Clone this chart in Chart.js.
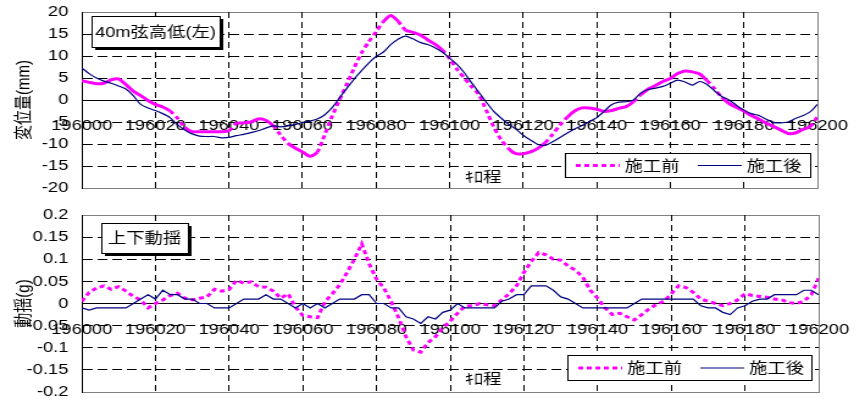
<!DOCTYPE html>
<html>
<head>
<meta charset="utf-8">
<script src="https://cdn.jsdelivr.net/npm/chart.js@4/dist/chart.umd.min.js"></script>
<style>
    body { margin: 0; background: #fff; }
    .wrap { position: absolute; left: 0; transform: scaleX(1.22); transform-origin: 0 0; }
</style>
</head>
<body>
<div class="wrap" style="top:0"><canvas id="alignment-chart" width="704" height="200"></canvas></div>
<div class="wrap" style="top:200px"><canvas id="sway-chart" width="704" height="201"></canvas></div>
<script>
const kiloPosts = [
    196000, 196002, 196004, 196006, 196008, 196010, 196012, 196014, 196016, 196018,
    196020, 196022, 196024, 196026, 196028, 196030, 196032, 196034, 196036, 196038,
    196040, 196042, 196044, 196046, 196048, 196050, 196052, 196054, 196056, 196058,
    196060, 196062, 196064, 196066, 196068, 196070, 196072, 196074, 196076, 196078,
    196080, 196082, 196084, 196086, 196088, 196090, 196092, 196094, 196096, 196098,
    196100, 196102, 196104, 196106, 196108, 196110, 196112, 196114, 196116, 196118,
    196120, 196122, 196124, 196126, 196128, 196130, 196132, 196134, 196136, 196138,
    196140, 196142, 196144, 196146, 196148, 196150, 196152, 196154, 196156, 196158,
    196160, 196162, 196164, 196166, 196168, 196170, 196172, 196174, 196176, 196178,
    196180, 196182, 196184, 196186, 196188, 196190, 196192, 196194, 196196, 196198,
    196200
];

// 40m弦高低 (mm)
const alignmentBefore = [
    4.4, 4.0, 3.7, 3.8, 4.6, 4.8, 3.5, 2.0, 1.0, -0.1,
    -1.0, -1.6, -2.5, -4.1, -6.2, -7.2, -7.2, -7.2, -7.2, -7.2,
    -7.0, -5.3, -5.2, -5.0, -4.3, -4.6, -5.8, -7.9, -9.8, -10.9,
    -11.8, -12.8, -11.9, -8.0, -3.8, -0.1, 3.5, 7.2, 10.6, 13.2,
    15.5, 17.8, 19.2, 17.9, 15.9, 15.4, 14.8, 13.7, 12.7, 11.4,
    9.4, 7.0, 5.0, 3.0, 1.2, -2.4, -6.1, -9.0, -11.0, -12.2,
    -12.2, -11.8, -11.0, -9.7, -7.8, -5.7, -3.9, -2.5, -1.8, -1.8,
    -2.1, -2.6, -2.4, -1.9, -1.5, -0.4, 1.2, 2.5, 3.3, 4.2,
    4.9, 6.0, 6.6, 6.4, 5.9, 4.4, 2.6, 0.6, -0.8, -1.7,
    -2.5, -3.5, -4.3, -5.2, -6.0, -6.8, -7.6, -7.5, -6.7, -6.1,
    -3.8
];
const alignmentAfter = [
    7.3, 6.0, 5.0, 4.3, 3.8, 3.2, 2.5, 1.0, -1.0, -1.8,
    -2.4, -3.1, -4.0, -5.6, -6.8, -7.7, -8.2, -8.3, -8.3, -8.6,
    -8.5, -8.1, -7.8, -7.4, -7.0, -6.4, -5.9, -6.1, -5.9, -5.6,
    -5.1, -4.8, -4.3, -3.4, -1.8, 0.4, 2.6, 4.7, 6.6, 8.4,
    9.9, 10.9, 12.6, 13.8, 14.5, 13.9, 13.1, 12.6, 11.9, 10.9,
    9.5, 8.1, 6.2, 3.9, 1.7, -0.5, -2.6, -4.1, -5.5, -6.6,
    -8.0, -9.1, -10.1, -10.3, -9.5, -8.5, -7.5, -6.6, -5.8, -4.9,
    -4.0, -2.6, -1.1, -0.5, -0.4, 0.0, 1.6, 2.4, 2.7, 3.1,
    3.8, 4.5, 4.1, 3.4, 4.2, 3.5, 2.1, 0.8, 0.0, -1.2,
    -2.3, -3.1, -3.5, -4.3, -5.1, -5.2, -5.0, -4.2, -3.6, -2.7,
    -1.0
];

// 上下動揺 (g)
const swayBefore = [
    0.005, 0.025, 0.035, 0.04, 0.032, 0.038, 0.028, 0.016, 0.008, -0.01,
    0.0, 0.008, 0.018, 0.023, 0.012, 0.008, 0.012, 0.015, 0.032, 0.028,
    0.032, 0.052, 0.046, 0.049, 0.038, 0.037, 0.028, 0.012, 0.022, -0.008,
    -0.027, -0.03, -0.032, 0.004, 0.022, 0.042, 0.07, 0.1, 0.135, 0.09,
    0.055, 0.035, 0.004, -0.032, -0.075, -0.105, -0.11, -0.088, -0.075, -0.055,
    -0.04, -0.022, -0.006, -0.005, 0.0, -0.003, -0.005, 0.008, 0.022, 0.04,
    0.07, 0.095, 0.115, 0.11, 0.1, 0.098, 0.085, 0.075, 0.06, 0.03,
    0.012, -0.01, -0.025, -0.022, -0.03, -0.037, -0.025, -0.012, -0.002, 0.005,
    0.022, 0.04, 0.036, 0.025, 0.01, 0.005, 0.0, -0.005, 0.0, 0.008,
    0.022, 0.018, 0.016, 0.014, 0.01, 0.008, 0.002, 0.0, 0.005, 0.02,
    0.057
];
const swayAfter = [
    -0.01, -0.015, -0.01, -0.01, -0.01, -0.01, -0.01, 0.0, 0.01, 0.02,
    0.01, 0.03, 0.02, 0.02, 0.01, 0.01, 0.0, 0.0, -0.01, -0.01,
    -0.01, 0.0, 0.01, 0.01, 0.01, 0.02, 0.01, 0.01, 0.0, -0.01,
    0.0, -0.01, 0.0, -0.01, 0.0, 0.01, 0.01, 0.01, 0.02, 0.02,
    0.0, 0.0, -0.01, -0.01, -0.03, -0.035, -0.045, -0.03, -0.035, -0.02,
    -0.015, 0.0, -0.01, -0.01, -0.01, -0.01, -0.01, 0.005, 0.01, 0.02,
    0.02, 0.04, 0.04, 0.04, 0.03, 0.015, 0.01, 0.0, -0.01, -0.01,
    -0.01, -0.01, -0.01, -0.01, -0.01, 0.0, 0.01, 0.01, 0.01, 0.01,
    0.01, 0.01, 0.01, 0.01, -0.005, -0.01, -0.01, -0.02, -0.025, -0.01,
    -0.005, 0.005, 0.01, 0.01, 0.02, 0.02, 0.02, 0.02, 0.03, 0.03,
    0.02
];

const kiloTicks = [196000, 196020, 196040, 196060, 196080, 196100, 196120, 196140, 196160, 196180, 196200];
const alignmentTicks = [-20, -15, -10, -5, 0, 5, 10, 15, 20];
const swayTicks = [-0.2, -0.15, -0.1, -0.05, 0, 0.05, 0.1, 0.15, 0.2];
const seriesLabels = ["施工前", "施工後"];

const FONT = '"Liberation Sans", "Noto Sans CJK JP", sans-serif';
const CLEAR = "rgba(0,0,0,0)";

// frame behind the plot, boxes / legend / axis name on top
const overlayPlugin = {
    id: "overlay",
    beforeDraw(chart) {
        const {ctx, chartArea: a} = chart;
        ctx.save();
        ctx.fillStyle = "#fff";
        ctx.fillRect(0, 0, chart.width, chart.height);
        ctx.strokeStyle = "#808080";
        ctx.lineWidth = 1;
        ctx.strokeRect(Math.round(a.left) + 0.5, Math.round(a.top) + 0.5, Math.round(a.width), Math.round(a.height));
        ctx.restore();
    },
    afterDraw(chart, args, opts) {
        const ctx = chart.ctx;
        ctx.save();
        ctx.font = "15px " + FONT;
        ctx.textBaseline = "middle";
        ctx.lineWidth = 1;
        ctx.strokeStyle = "#000";

        const b = opts.box;
        ctx.fillStyle = "#000";
        ctx.fillRect(b.x + 3, b.y + 3, b.w, b.h);
        ctx.fillStyle = "#fff";
        ctx.fillRect(b.x, b.y, b.w, b.h);
        ctx.strokeRect(b.x + 0.5, b.y + 0.5, b.w, b.h);
        ctx.fillStyle = "#000";
        ctx.textAlign = "center";
        ctx.fillText(b.text, b.x + b.w / 2, b.y + b.h / 2 + 1);

        ctx.fillText(opts.xTitle.text, opts.xTitle.x, opts.xTitle.y);

        const l = opts.legend;
        ctx.fillStyle = "#fff";
        ctx.fillRect(l.x, l.y, l.w, l.h);
        ctx.strokeRect(l.x + 0.5, l.y + 0.5, l.w, l.h);
        const midY = l.y + l.h / 2 + 0.5;
        ctx.textAlign = "left";
        seriesLabels.forEach((name, i) => {
            const ds = chart.data.datasets.find(d => d.label === name);
            const x0 = l.x + 9 + i * 100;
            ctx.save();
            ctx.strokeStyle = ds.borderColor;
            ctx.lineWidth = ds.borderWidth;
            ctx.setLineDash(ds.borderDash || []);
            ctx.beginPath();
            ctx.moveTo(x0, midY);
            ctx.lineTo(x0 + 36, midY);
            ctx.stroke();
            ctx.restore();
            ctx.fillStyle = "#000";
            ctx.fillText(name, x0 + 40, midY + 1);
        });
        ctx.restore();
    }
};

function buildOptions(yTicks, yTitle, padding, overlay) {
    const yMin = yTicks[0];
    const yMax = yTicks[yTicks.length - 1];
    const xMin = kiloTicks[0];
    const xMax = kiloTicks[kiloTicks.length - 1];
    return {
        responsive: false,
        animation: false,
        layout: { padding: padding },
        plugins: {
            legend: { display: false },
            tooltip: { enabled: false },
            overlay: overlay
        },
        scales: {
            x: {
                type: "linear",
                position: { y: 0 },
                min: xMin,
                max: xMax,
                afterBuildTicks: scale => { scale.ticks = kiloTicks.map(v => ({ value: v })); },
                afterFit: scale => {
                    scale.paddingLeft = scale.paddingRight = 0;
                    scale.paddingTop = scale.paddingBottom = 0;
                },
                ticks: {
                    font: { family: FONT, size: 15 },
                    color: "#000",
                    padding: 17,
                    maxRotation: 0,
                    autoSkip: false,
                    callback: v => String(v)
                },
                grid: {
                    color: c => (c.tick && (c.tick.value === xMin || c.tick.value === xMax)) ? CLEAR : "#000",
                    lineWidth: 1,
                    drawTicks: false
                },
                border: { display: true, color: "#000", width: 1, dash: [6, 4] }
            },
            y: {
                min: yMin,
                max: yMax,
                afterBuildTicks: scale => { scale.ticks = yTicks.map(v => ({ value: v })); },
                afterFit: scale => {
                    scale.width = 67;
                    scale.paddingTop = scale.paddingBottom = 0;
                },
                ticks: {
                    font: { family: FONT, size: 15 },
                    color: "#000",
                    padding: 11,
                    callback: v => String(v)
                },
                grid: {
                    color: c => (c.tick && [yMin, 0, yMax].includes(c.tick.value)) ? CLEAR : "#000",
                    lineWidth: 1,
                    drawTicks: false
                },
                border: { display: true, color: "#000", width: 1, dash: [8, 4] },
                title: {
                    display: true,
                    text: yTitle,
                    font: { family: FONT, size: 15 },
                    color: "#000",
                    padding: { top: 11, bottom: 0 }
                }
            }
        }
    };
}

function toPoints(values) {
    return kiloPosts.map((km, i) => ({ x: km, y: values[i] }));
}

new Chart(document.getElementById("alignment-chart"), {
    type: "line",
    data: {
        datasets: [{
            label: seriesLabels[1],
            data: toPoints(alignmentAfter),
            borderColor: "#000080",
            borderWidth: 1.2,
            pointRadius: 0,
            tension: 0.25
        }, {
            label: seriesLabels[0],
            data: toPoints(alignmentBefore),
            borderColor: "#ff00ff",
            borderWidth: 3,
            borderDash: [4, 3],
            pointRadius: 0,
            tension: 0.25,
            segment: {
                borderDash: c => Math.abs(c.p1.y - c.p0.y) > 7 ? [4, 3] : []
            }
        }]
    },
    options: buildOptions(alignmentTicks, "変位量(mm)", { top: 12, right: 34, bottom: 12, left: 0 }, {
        box: { text: "40m弦高低(左)", x: 75, y: 16, w: 105, h: 31 },
        xTitle: { text: "ｷﾛ程", x: 396, y: 178 },
        legend: { x: 463, y: 153, w: 201, h: 24 }
    }),
    plugins: [overlayPlugin]
});

new Chart(document.getElementById("sway-chart"), {
    type: "line",
    data: {
        datasets: [{
            label: seriesLabels[1],
            data: toPoints(swayAfter),
            borderColor: "#000080",
            borderWidth: 1.2,
            pointRadius: 0,
            tension: 0
        }, {
            label: seriesLabels[0],
            data: toPoints(swayBefore),
            borderColor: "#ff00ff",
            borderWidth: 3,
            borderDash: [4, 3],
            pointRadius: 0,
            tension: 0
        }]
    },
    options: buildOptions(swayTicks, "動揺(g)", { top: 15, right: 33, bottom: 9, left: 0 }, {
        box: { text: "上下動揺", x: 83, y: 23, w: 71, h: 30 },
        xTitle: { text: "ｷﾛ程", x: 396, y: 180 },
        legend: { x: 465, y: 155, w: 200, h: 25 }
    }),
    plugins: [overlayPlugin]
});
</script>
</body>
</html>
